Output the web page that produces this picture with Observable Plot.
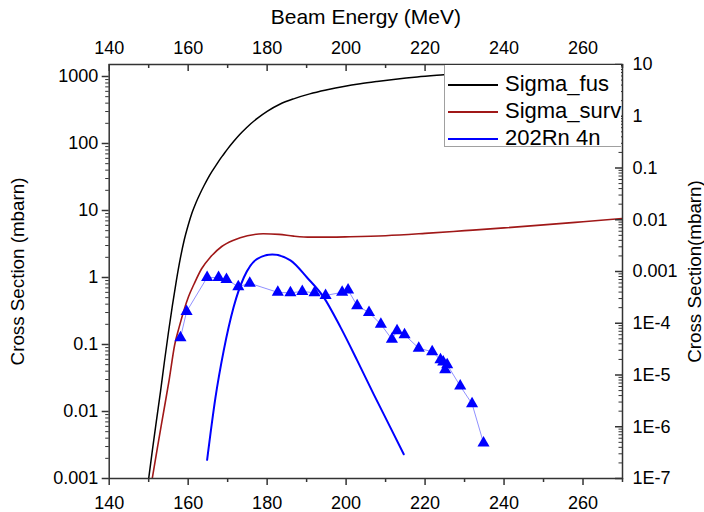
<!DOCTYPE html>
<html><head><meta charset="utf-8">
<script src="https://cdn.jsdelivr.net/npm/d3@7"></script>
<script src="https://cdn.jsdelivr.net/npm/@observablehq/plot@0.6"></script>
<style>
body{margin:0;background:#fff;}
#wrap{position:relative;width:704px;height:512px;}
#legend{position:absolute;left:444px;top:65px;width:177px;height:82px;background:#fff;border-left:1px solid #a0a0a0;border-bottom:1px solid #a0a0a0;font-family:"Liberation Sans",Arial,sans-serif;font-size:22px;padding-top:5px;box-sizing:border-box;overflow:visible;white-space:nowrap;}
#legend .row{height:27px;line-height:27px;}
#legend .sw{display:inline-block;width:50px;height:2px;margin-left:3px;margin-right:7px;vertical-align:middle;}
</style></head>
<body><div id="wrap"></div>
<script>
// ---- data ----
const xTicks = [140,160,180,200,220,240,260];
const xMinorTicks = [150,170,190,210,230,250,270];
const leftTicks = [0.001,0.01,0.1,1,10,100,1000];
const leftTickLabels = ["0.001","0.01","0.1","1","10","100","1000"];
const rightTicks = [1e-7,1e-6,1e-5,1e-4,1e-3,1e-2,0.1,1,10];
const rightTickLabels = ["1E-7","1E-6","1E-5","1E-4","0.001","0.01","0.1","1","10"];

const fusE = [150,151,152,153,154,155,156,157,158,159,160,161,162,163,164,165,166,167,168,169,170,171.5,173,174.9,177.5,180,183.2,186.7,190.8,195.2,199.4,203.6,207.8,212,218,224.7,235,250,270];
const fusV = [0.001,0.00282,0.00759,0.02,0.0562,0.151,0.38,0.891,1.91,3.63,6.03,9.33,13.2,17.8,23.4,30.2,38,46.8,57.5,69.2,83.2,107,135,175,237,302,385,464,550,632,708,778,841,902,984,1059,1175,1318,1479];

const survE = [150.9,152.3,153.8,155.2,156.6,157.7,158.9,160.1,161.5,163.4,165.6,168.5,171.5,175,179,183,186.7,191,196,201,210,220,230,240,250,260,270];
const survV = [0.001,0.0031,0.01,0.03,0.1,0.18,0.32,0.52,0.8,1.35,2.0,2.9,3.6,4.2,4.5,4.4,4.15,4.0,4.0,4.05,4.2,4.55,5.0,5.5,6.1,6.8,7.6];

const rnE = [164.8,166.9,169,171.5,174.1,177.5,181.3,185.9,190.1,194.3,198.6,202.8,207,211.2,214.6];
const rnV = [0.0019,0.016,0.081,0.36,1.0,1.9,2.2,1.8,1.0,0.51,0.18,0.058,0.018,0.0058,0.0023];

const expE = [158.05,159.6,164.8,167.7,169.7,172.7,175.6,182.7,185.9,188.9,192,194.8,199,200.5,202.8,205.8,208.8,211.6,212.9,214.8,218.4,221.8,223.9,224.6,225.1,225.6,228.9,231.9,234.8];
const expV = [0.126,0.31,1.0,1.0,0.93,0.73,0.82,0.6,0.59,0.62,0.59,0.54,0.6,0.65,0.38,0.3,0.2,0.12,0.16,0.14,0.088,0.078,0.059,0.055,0.042,0.05,0.024,0.013,0.0034];

const seriesNames = ["Sigma_fus","Sigma_surv","202Rn 4n"];
const seriesColors = ["#000000","#a01818","#0000ff"];

// ---- layout ----
const W = 704, H = 512, mL = 108.7, mR = 82, mT = 64, mB = 34;
const frameW = W - mL - mR, frameH = H - mT - mB;
const xDomain = [140, 270];

// ---- derived ----
const rows = (E, V) => E.map((e, i) => ({x: e, y: V[i]}));
const fus = rows(fusE, fusV), surv = rows(survE, survV), rn = rows(rnE, rnV), exp = rows(expE, expV);

const leftTop = 1510; // left-axis value at the top of the frame
const leftSpan = Math.log10(leftTop) + 3;
const rToL = r => Math.pow(10, -3 + (Math.log10(r) + 7) * leftSpan / 8);

function logMinors(lo, hi) {
  const out = [];
  for (let p = lo; p < hi; p++) for (let m = 2; m <= 9; m++) out.push(m * Math.pow(10, p));
  return out;
}
const leftMinor = logMinors(-3, 3);
const rightMinor = logMinors(-7, 1).map(rToL);
const rightRows = rightTicks.map((t, i) => ({v: rToL(t), label: rightTickLabels[i]}));
const leftLab = new Map(leftTicks.map((t, i) => [t, leftTickLabels[i]]));

// inward ticks for the secondary (top / right) axes, expressed via the scales
const pxPerDecade = frameH / leftSpan;
const pxPerUnitX = frameW / (xDomain[1] - xDomain[0]);
const inTicksTop = (data, len) => Plot.ruleX(data, {x: d => d, y1: leftTop, y2: leftTop / Math.pow(10, len / pxPerDecade), stroke: "#333", strokeWidth: 1.5});
const inTicksRight = (data, len, sw) => Plot.ruleY(data, {y: d => d, x1: xDomain[1], x2: xDomain[1] - len / pxPerUnitX, stroke: "#333", strokeWidth: sw});

const font = "'Liberation Sans', Arial, sans-serif";

const chart = Plot.plot({
  width: W, height: H,
  marginLeft: mL, marginRight: mR, marginTop: mT, marginBottom: mB,
  style: {fontFamily: font, fontSize: "18px", background: "white", color: "black"},
  x: {domain: xDomain, axis: null},
  y: {type: "log", domain: [0.001, leftTop], axis: null},
  marks: [
    // curves
    Plot.line(fus, {x: "x", y: "y", stroke: seriesColors[0], strokeWidth: 1.5, curve: "monotone-x", clip: true}),
    Plot.line(surv, {x: "x", y: "y", stroke: seriesColors[1], strokeWidth: 1.6, curve: "monotone-x", clip: true}),
    Plot.line(rn, {x: "x", y: "y", stroke: seriesColors[2], strokeWidth: 2, curve: "monotone-x", clip: true}),
    Plot.line(exp, {x: "x", y: "y", stroke: "#0000ff", strokeWidth: 0.8, strokeOpacity: 0.55}),
    Plot.dot(exp, {x: "x", y: "y", symbol: "triangle", r: 4.5, fill: "#0000ff", stroke: "none"}),
    // top & right inward ticks
    inTicksTop(xTicks, 7),
    inTicksTop(xMinorTicks, 4),
    inTicksRight(rightRows.map(d => d.v), 7, 1.5),
    inTicksRight(rightMinor, 3.5, 1),
    // frame
    Plot.frame({stroke: "#333", strokeWidth: 1.5}),
    // bottom axis
    Plot.axisX({anchor: "bottom", ticks: xTicks, tickSize: 7, tickPadding: 11, label: null, stroke: "#333", strokeWidth: 1.5, tickFormat: d => String(d)}),
    Plot.axisX({anchor: "bottom", ticks: xMinorTicks, tickSize: 4, fill: "none", label: null, stroke: "#333", strokeWidth: 1.5}),
    // top labels
    Plot.axisX({anchor: "top", ticks: xTicks, tickSize: 0, tickPadding: 11, label: null, tickFormat: d => String(d)}),
    // left axis
    Plot.axisY({anchor: "left", ticks: leftTicks, tickSize: 7, tickPadding: 4, label: null, stroke: "#333", strokeWidth: 1.5, tickFormat: d => leftLab.get(d)}),
    Plot.axisY({anchor: "left", ticks: leftMinor, tickSize: 3.5, fill: "none", label: null, stroke: "#333", strokeWidth: 1}),
    // right labels
    Plot.text(rightRows, {y: "v", text: "label", frameAnchor: "right", dx: 10, textAnchor: "start", fontSize: 18}),
    // titles
    Plot.text(["Beam Energy (MeV)"], {text: d => d, frameAnchor: "top", dy: -47, fontSize: 21, textAnchor: "middle", lineAnchor: "middle"}),
    Plot.text(["Cross Section (mbarn)"], {text: d => d, frameAnchor: "left", dx: -91, rotate: -90, fontSize: 18.8, textAnchor: "middle", lineAnchor: "middle"}),
    Plot.text(["Cross Section(mbarn)"], {text: d => d, frameAnchor: "right", dx: 72, rotate: -90, fontSize: 18.8, textAnchor: "middle", lineAnchor: "middle"})
  ]
});
const wrap = document.getElementById("wrap");
wrap.appendChild(chart);

// legend overlay
const leg = document.createElement("div");
leg.id = "legend";
seriesNames.forEach((n, i) => {
  const r = document.createElement("div");
  r.className = "row";
  const sw = document.createElement("span");
  sw.className = "sw";
  sw.style.background = seriesColors[i];
  r.appendChild(sw);
  r.appendChild(document.createTextNode(n));
  leg.appendChild(r);
});
wrap.appendChild(leg);
</script>
</body></html>
